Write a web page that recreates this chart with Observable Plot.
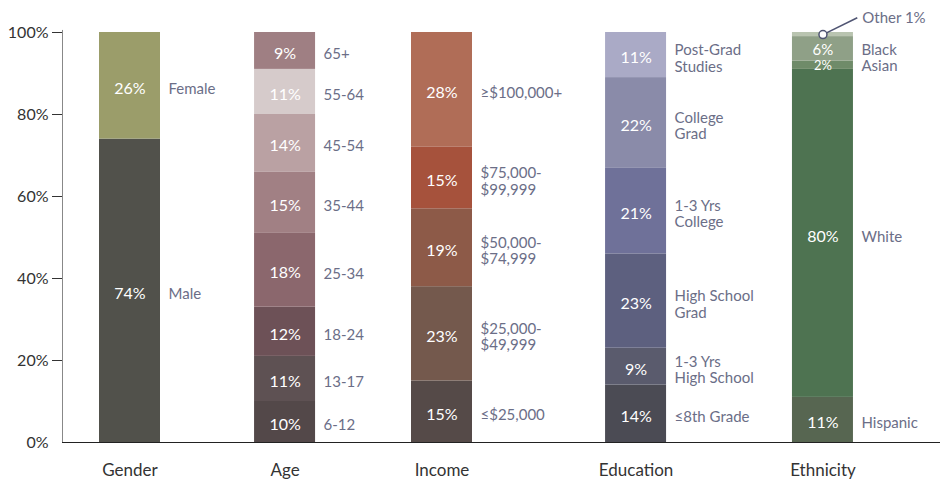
<!DOCTYPE html>
<html><head><meta charset="utf-8">
<script src="https://cdn.jsdelivr.net/npm/d3@7"></script>
<script src="https://cdn.jsdelivr.net/npm/@observablehq/plot@0.6"></script>
<style>body{margin:0;background:#fff;}</style>
</head><body><div id="chart"></div>
<script>
// ---- data (segments listed bottom to top) ----
const categories = ["Gender", "Age", "Income", "Education", "Ethnicity"];
const genderLabels = ["Male", "Female"];
const genderValues = [74, 26];
const ageLabels = ["6-12", "13-17", "18-24", "25-34", "35-44", "45-54", "55-64", "65+"];
const ageValues = [10, 11, 12, 18, 15, 14, 11, 9];
const incomeLabels = ["≤$25,000", "$25,000-\n$49,999", "$50,000-\n$74,999", "$75,000-\n$99,999", "≥$100,000+"];
const incomeValues = [15, 23, 19, 15, 28];
const educationLabels = ["≤8th Grade", "1-3 Yrs\nHigh School", "High School\nGrad", "1-3 Yrs\nCollege", "College\nGrad", "Post-Grad\nStudies"];
const educationValues = [14, 9, 23, 21, 22, 11];
const ethnicityLabels = ["Hispanic", "White", "Asian", "Black", "Other"];
const ethnicityValues = [11, 80, 2, 6, 1];
const yTicks = [20, 40, 60, 80, 100];

// ---- styles / layout ----
const genderColors = ["#51514b", "#9b9d6a"];
const ageColors = ["#534849", "#5e5153", "#6d5157", "#8b676d", "#a18084", "#baa1a3", "#d6cbcb", "#9f7f83"];
const incomeColors = ["#554a48", "#74594d", "#8d5a48", "#a6523c", "#b06d57"];
const educationColors = ["#4b4b54", "#5a5b6d", "#5d607f", "#6f7199", "#8a8ba9", "#aaaac6"];
const ethnicityColors = ["#576651", "#4e7351", "#6f8b69", "#8fa087", "#b9c4b0"];
const columnSlots = [0, 0.994, 2.0, 3.244, 4.442];
const halfW = 0.1955;
const labelColor = "#6b6e87";

const groups = [
  [genderLabels, genderValues, genderColors],
  [ageLabels, ageValues, ageColors],
  [incomeLabels, incomeValues, incomeColors],
  [educationLabels, educationValues, educationColors],
  [ethnicityLabels, ethnicityValues, ethnicityColors]
];
const rows = groups.flatMap(([labels, values, colors], gi) => {
  let acc = 0;
  return values.map((v, i) => {
    const y1 = acc; acc += v;
    return {group: categories[gi], slot: columnSlots[gi], label: labels[i], value: v, y1, y2: acc, mid: (y1 + acc) / 2, color: colors[i]};
  });
});
const shown = rows.filter(d => d.value >= 8);
const thin = rows.filter(d => d.value >= 2 && d.value < 8);
const other = rows.filter(d => d.value < 2);

const chart = Plot.plot({
  width: 940, height: 482,
  marginLeft: 62, marginRight: 0, marginTop: 32, marginBottom: 40,
  style: {fontFamily: "Lato, sans-serif", background: "#fff", color: "#333"},
  x: {type: "linear", domain: [-0.4327, 5.1955], label: null},
  y: {domain: [0, 100], label: null},
  color: {type: "identity"},
  marks: [
    Plot.rect(rows, {x1: d => d.slot - halfW, x2: d => d.slot + halfW, y1: "y1", y2: "y2", fill: "color"}),
    Plot.ruleX([-0.4327], {y1: 0, y2: 100.5, stroke: "#888"}),
    Plot.ruleY([0], {stroke: "#222"}),
    Plot.axisY({ticks: yTicks, tickFormat: d => d + "%", tickSize: 10, tickPadding: 4, fontSize: 16, color: "#333", label: null}),
    Plot.axisY({ticks: [0], tickFormat: d => d + "%", tickSize: 0, tickPadding: 14, fontSize: 16, color: "#333", label: null}),
    Plot.axisX({ticks: columnSlots, tickFormat: d => categories[columnSlots.indexOf(d)], tickSize: 0, tickPadding: 21, fontSize: 17, color: "#333", label: null}),
    Plot.text(shown, {x: "slot", y: "mid", dy: 3, text: d => d.value + "%", fill: "white", fontSize: 16}),
    Plot.text(thin, {x: "slot", y: "mid", dy: 1, text: d => d.value + "%", fill: "white", fontSize: d => d.value < 4 ? 13 : 15}),
    Plot.text(shown, {x: d => d.slot + halfW, y: "mid", dx: 8, dy: 3, text: "label", textAnchor: "start", fill: labelColor, fontSize: 15, lineHeight: 1.1}),
    Plot.text(thin, {x: d => d.slot + halfW, y: "mid", dx: 8, dy: 1, text: "label", textAnchor: "start", fill: labelColor, fontSize: 15}),
    Plot.link(other, {x1: "slot", y1: "mid", x2: d => d.slot + 0.22, y2: 103.6, stroke: "#4f5472", strokeWidth: 1.5}),
    Plot.dot(other, {x: "slot", y: "mid", r: 4, fill: "white", stroke: "#4f5472", strokeWidth: 1.5}),
    Plot.text(other, {x: d => d.slot + 0.22, y: 103.6, dx: 5, text: d => `${d.label} ${d.value}%`, textAnchor: "start", fill: labelColor, fontSize: 15})
  ]
});
document.getElementById("chart").append(chart);
</script>
</body></html>
